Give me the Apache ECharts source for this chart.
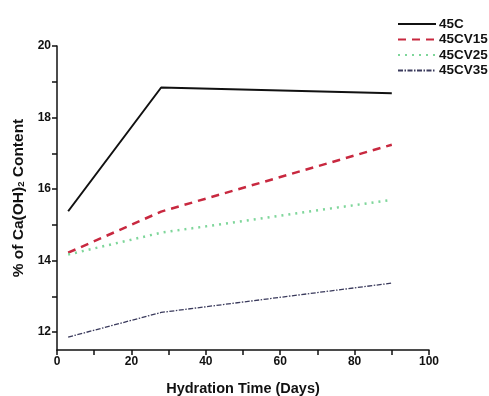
<!DOCTYPE html>
<html>
<head>
<meta charset="utf-8">
<script src="https://cdn.jsdelivr.net/npm/echarts@6/dist/echarts.min.js"></script>
<style>
html,body{margin:0;padding:0;background:#fff;}
#chart{width:489px;height:396px;}
</style>
</head>
<body>
<div id="chart"></div>
<script>
const days = [3, 28, 90];
const s45C = [15.38, 18.84, 18.68];
const s45CV15 = [14.22, 15.37, 17.24];
const s45CV25 = [14.17, 14.78, 15.70];
const s45CV35 = [11.86, 12.55, 13.37];
const seriesNames = ['45C', '45CV15', '45CV25', '45CV35'];
const xTicks = [0, 20, 40, 60, 80, 100];
const xMinor = [0, 10, 20, 30, 40, 50, 60, 70, 80, 90, 100];
const yTicks = [12, 14, 16, 18, 20];
const yMinor = [12, 13, 14, 15, 16, 17, 18, 19, 20];

const font = 'Liberation Sans, Arial, sans-serif';
const chart = echarts.init(document.getElementById('chart'), null, {renderer: 'canvas'});

function pairs(vals) { return days.map((d, i) => [d, vals[i]]); }

const styles = [
  {color: '#111111', width: 2, type: 'solid'},
  {color: '#c8283f', width: 2.5, type: [8, 6]},
  {color: '#7ed69a', width: 2.5, type: [2, 5]},
  {color: '#3a3a5c', width: 1.3, type: [5, 1.5, 1.5, 1.5]}
];
const data = [s45C, s45CV15, s45CV25, s45CV35];

chart.setOption({
  animation: false,
  backgroundColor: '#ffffff',
  grid: {left: 57, right: 60, top: 46, bottom: 46, outerBoundsMode: 'none', containLabel: false},
  legend: {
    orient: 'vertical',
    left: 397, top: 17, padding: 0,
    itemWidth: 38, itemHeight: 13, itemGap: 1.5,
    itemStyle: {opacity: 0},
    textStyle: {fontFamily: font, fontWeight: 'bold', fontSize: 13.5, color: '#111', padding: [0, 0, 0, -2]},
    data: seriesNames
  },
  xAxis: {
    type: 'value', min: 0, max: 100, interval: 20,
    name: 'Hydration Time (Days)', nameLocation: 'middle', nameGap: 31,
    nameTextStyle: {fontFamily: font, fontWeight: 'bold', fontSize: 14.5, color: '#111'},
    axisLine: {show: true, onZero: false, lineStyle: {color: '#111', width: 1.5}},
    axisTick: {show: true, inside: false, length: 5, customValues: xMinor, lineStyle: {color: '#111', width: 1.5}},
    axisLabel: {fontFamily: font, fontWeight: 'bold', fontSize: 12, color: '#111', margin: 6, customValues: xTicks},
    splitLine: {show: false}
  },
  yAxis: {
    type: 'value', min: 11.5, max: 20,
    name: '{a|% of Ca(OH)}{s|2}{a| Content}', nameLocation: 'middle', nameGap: 27, nameRotate: 90,
    nameTextStyle: {
      rich: {
        a: {fontFamily: font, fontWeight: 'bold', fontSize: 15.5, color: '#111'},
        s: {fontFamily: font, fontWeight: 'bold', fontSize: 9.5, color: '#111', verticalAlign: 'bottom', padding: [7, 0, 0, 0]}
      }
    },
    axisLine: {show: true, onZero: false, lineStyle: {color: '#111', width: 1.5}},
    axisTick: {show: true, inside: false, length: 5, customValues: yMinor, lineStyle: {color: '#111', width: 1.5}},
    axisLabel: {fontFamily: font, fontWeight: 'bold', fontSize: 12, color: '#111', margin: 6, customValues: yTicks},
    splitLine: {show: false}
  },
  series: seriesNames.map((n, i) => ({
    name: n, type: 'line', data: pairs(data[i]), symbol: 'none',
    lineStyle: {color: styles[i].color, width: styles[i].width, type: styles[i].type},
    itemStyle: {color: styles[i].color}
  }))
});
</script>
</body>
</html>
